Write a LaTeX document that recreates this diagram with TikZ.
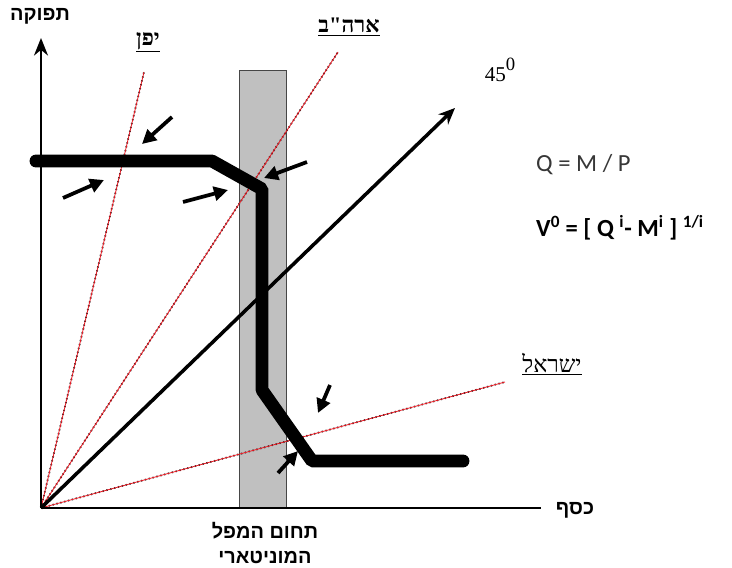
\documentclass[tikz,border=0pt]{standalone}
\usepackage{fontspec}
\setmainfont{Liberation Sans}
\newfontfamily\hebsans[Script=Hebrew]{Liberation Sans}
\newfontfamily\hebserif[Script=Hebrew]{Liberation Serif}
\newfontfamily\calibfont{Carlito}
\newfontfamily\timesfont{Liberation Serif}
\TeXXeTstate=1
\usetikzlibrary{arrows.meta}
\definecolor{bandgray}{RGB}{192,192,192}
\definecolor{bandedge}{RGB}{70,70,70}
\definecolor{rayred}{RGB}{235,25,35}
\definecolor{formgray}{RGB}{55,55,55}
\tikzset{
  axisline/.style={line width=1.8pt, color=black},
  rayline/.style={draw=rayred, line width=0.7pt,
    preaction={draw=black!85, line width=1.5pt, dash pattern=on 1.2pt off 2.2pt}},
  diagline/.style={line width=3pt, -{Stealth[length=14pt,width=12pt]}},
  supplyline/.style={line width=11pt, line cap=round, line join=bevel},
  pusharrow/.style={line width=3.2pt, -{Triangle[length=12pt,width=12pt]}},
  heblabel/.style={font=\hebsans\bfseries\fontsize{17}{20}\selectfont, inner sep=1pt},
  countrylabel/.style={font=\hebserif\bfseries\fontsize{19}{22}\selectfont, inner sep=1pt}
}

\begin{document}
\begin{tikzpicture}[x=0.03cm,y=-0.03cm]
  \useasboundingbox (0,0) rectangle (732,568);
  % origin and axis ends
  \coordinate (O) at (41,508);
  \coordinate (ytop) at (41,38);
  \coordinate (xend) at (541,508);
  % monetary band
  \fill[bandgray] (239,70) rectangle (286,508);
  \draw[bandedge, line width=0.8pt] (239,508) -- (239,70) -- (286,70) -- (286,508);
  % rays of the countries
  \coordinate (jp) at (144,72);
  \coordinate (us) at (338,52);
  \coordinate (il) at (505,382);
  \draw[rayline] (O) -- (jp);
  \draw[rayline] (O) -- (us);
  \draw[rayline] (O) -- (il);
  % 45 degree line
  \coordinate (deg) at (455,108);
  \draw[diagline] (O) -- (deg);
  % axes
  \draw[axisline, -{Stealth[length=15pt,width=12pt]}] (O) -- (ytop);
  \draw[axisline] (O) -- (xend);
  % thick curve
  \draw[supplyline] (36,161) -- (212,161) -- (262,189) -- (262,390) -- (312,461) -- (463,461);
  % small arrows
  \foreach \sx/\sy/\ex/\ey in {172/117/142/144, 63/198/104/180, 183/202/228/190,
      307/162/264/178, 330/385/318/413, 278/473/298/451}
    \draw[pusharrow] (\sx,\sy) -- (\ex,\ey);
  % labels
  \node[heblabel] (qty) at (40,16) {\beginR תפוקה\endR};
  \node[heblabel] (money) at (575,510) {\beginR כסף\endR};
  \node[heblabel, align=center] (band) at (265,543)
    {\beginR תחום המפל\endR\\[2pt]\beginR המוניטארי\endR};
  \node[countrylabel] (japan) at (148,42) {\underline{\beginR יפן\endR}};
  \node[countrylabel] (usa) at (349,27) {\underline{\beginR ארה"ב\endR}};
  \node[countrylabel, font=\hebserif\fontsize{20}{22}\selectfont] (israel) at (552,364)
    {\underline{\beginR ישראל\endR}};
  \node[font=\timesfont\fontsize{18}{20}\selectfont, inner sep=0pt] (fortyfive) at (500,70)
    {45\raisebox{0.55em}{\fontsize{16}{16}\selectfont 0}};
  \node[font=\calibfont\fontsize{21}{24}\selectfont, color=formgray, anchor=west,
    inner sep=0pt] (qeq) at (536,165) {Q = M / P};
  \node[font=\calibfont\bfseries\fontsize{21}{24}\selectfont, anchor=west,
    inner sep=0pt] (veq) at (536,228)
    {V\textsuperscript{0} = [ Q \textsuperscript{i}- M\textsuperscript{i} ] \textsuperscript{1/i}};
\end{tikzpicture}
\end{document}
